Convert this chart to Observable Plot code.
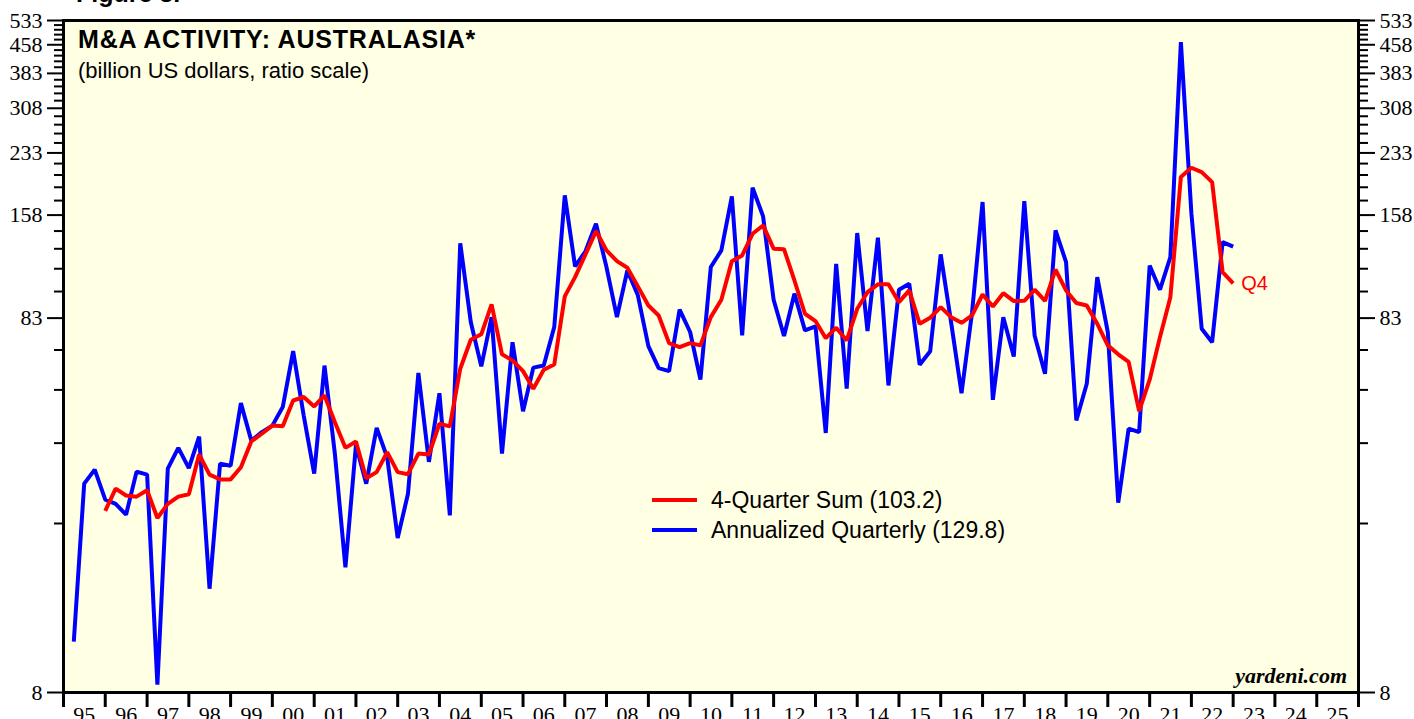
<!DOCTYPE html>
<html>
<head>
<meta charset="utf-8">
<script src="https://cdn.jsdelivr.net/npm/d3@7"></script>
<script src="https://cdn.jsdelivr.net/npm/@observablehq/plot@0.6"></script>
<style>
  body { margin: 0; background: #ffffff; }
  #wrap { position: relative; width: 1414px; height: 719px; overflow: hidden; }
  #wrap > svg { display: block; }
  #overlay { position: absolute; left: 0; top: 0; pointer-events: none; overflow: visible; }
</style>
</head>
<body>
<div id="wrap"></div>
<script>
// ---- Data (billion US dollars), quarterly from 1995 Q1 to 2022 Q4 ----
const firstYear = 1995;
const lastAxisYear = 2025;

const annualized = [
  11.0, 29.5, 32.2, 26.7,   26.0, 24.3, 31.8, 31.2,   8.4, 32.4, 36.9, 32.5,   // 95-97
  39.6, 15.3, 33.4, 33.0,   48.8, 38.6, 40.7, 42.4,   47.6, 67.5, 45.2, 31.4,  // 98-00
  61.7, 35.5, 17.5, 37.5,   29.5, 41.8, 34.8, 21.0,   27.7, 58.9, 33.8, 51.9,  // 01-03
  24.2, 132.5, 81.0, 61.4,  83.5, 35.6, 71.4, 46.4,   60.9, 61.7, 78.5, 178.7, // 04-06
  114.7, 126.0, 149.7, 114.0, 83.5, 111.8, 95.7, 69.7, 60.7, 59.6, 87.5, 76.1, // 07-09
  56.5, 114.2, 126.7, 177.6, 74.5, 187.5, 156.7, 93.1, 74.2, 96.7, 76.9, 78.8, // 10-12
  40.5, 116.5, 53.4, 141.2, 76.6, 137.2, 54.5, 99.1,  102.9, 62.0, 67.5, 123.6, // 13-15
  80.8, 51.9, 86.0, 171.4,  49.8, 83.5, 65.3, 172.5,  74.5, 58.6, 143.6, 117.8, // 16-18
  43.8, 55.1, 107.2, 76.1,  26.2, 41.6, 40.7, 115.3,  99.1, 121.5, 465.9, 159.4, // 19-21
  77.7, 71.4, 133.5, 129.8                                                       // 22
];

const fourQuarterSum = [
  null, null, null, 24.9,   28.6, 27.4, 27.2, 28.3,   23.8, 26.0, 27.2, 27.6,  // 95-97
  35.4, 31.2, 30.3, 30.3,   32.7, 38.4, 40.3, 42.4,   42.2, 49.6, 50.7, 47.8,  // 98-00
  51.2, 43.3, 36.9, 38.4,   30.5, 31.7, 35.9, 31.7,   31.3, 35.6, 35.4, 42.9,  // 01-03
  42.2, 60.5, 72.5, 75.0,   90.4, 66.2, 63.7, 59.6,   53.4, 60.1, 62.1, 95.1,  // 04-06
  107.2, 123.6, 143.0, 126.7, 118.5, 113.7, 101.2, 89.8, 84.4, 71.0, 69.2, 71.0, // 07-09
  70.0, 83.5, 93.1, 118.5,  122.8, 140.6, 148.1, 128.1, 127.7, 105.0, 85.3, 81.5, // 10-12
  73.2, 78.2, 72.2, 88.0,   97.6, 102.5, 102.5, 91.7, 98.7, 80.1, 83.2, 88.9,   // 13-15
  83.5, 80.6, 84.4, 96.2,   89.3, 97.0, 92.3, 92.5,   99.1, 92.5, 112.3, 98.7,  // 16-18
  91.2, 89.8, 80.1, 70.0,   66.2, 63.1, 46.4, 56.5,   73.7, 94.6, 200.4, 212.4, // 19-21
  206.7, 194.2, 110.6, 103.2                                                     // 22
];

const yearLabels = ["95","96","97","98","99","00","01","02","03","04","05","06","07","08","09","10",
                    "11","12","13","14","15","16","17","18","19","20","21","22","23","24","25"];
const yMajorTicks = [8, 83, 158, 233, 308, 383, 458, 533];
const yMinorTicks = [23, 38, 53, 68, 98, 113, 128, 143, 173, 188, 203, 218, 248, 263, 278, 293,
                     323, 338, 353, 368, 398, 413, 428, 443, 473, 488, 503, 518];
const lastLabel = "Q4";

// ---- Build table ----
const quarterEnd = i => new Date(Date.UTC(firstYear, 3 * (i + 1), 1));
const data = annualized.map((v, i) => ({ date: quarterEnd(i), annualized: v, sum: fourQuarterSum[i] }));
const yearStarts = d3.range(firstYear, lastAxisYear + 2).map(y => new Date(Date.UTC(y, 0, 1)));
const yearMids = d3.range(firstYear, lastAxisYear + 1).map(y => new Date(Date.UTC(y, 6, 2)));

const serif = '"Liberation Serif","Times New Roman",Times,serif';
const sans = '"Liberation Sans",Arial,Helvetica,sans-serif';

const chart = Plot.plot({
  width: 1414,
  height: 719,
  marginLeft: 63,
  marginRight: 56,
  marginTop: 20,
  marginBottom: 27,
  style: { fontFamily: serif, fontSize: "22px", background: "transparent", color: "#000", overflow: "hidden" },
  x: { type: "utc", domain: [yearStarts[0], yearStarts[yearStarts.length - 1]] },
  y: { type: "log", domain: [8, 533] },
  marks: [
    Plot.frame({ fill: "#ffffe4", stroke: null }),
    Plot.axisY(yMinorTicks, { anchor: "left", tickSize: 9, strokeWidth: 2, tickFormat: () => "", label: null }),
    Plot.axisY(yMinorTicks, { anchor: "right", tickSize: 9, strokeWidth: 2, tickFormat: () => "", label: null }),
    Plot.axisY(yMajorTicks, { anchor: "left", tickSize: 16, tickPadding: 5, strokeWidth: 2, tickFormat: d => String(d), label: null }),
    Plot.axisY(yMajorTicks, { anchor: "right", tickSize: 16, tickPadding: 5, strokeWidth: 2, tickFormat: d => String(d), label: null }),
    Plot.axisX(yearStarts, { anchor: "bottom", tickSize: 15, strokeWidth: 3, tickFormat: () => "", label: null }),
    Plot.axisX(yearMids, { anchor: "bottom", tickSize: 0, tickPadding: 14, tickFormat: d => yearLabels[d.getUTCFullYear() - firstYear], label: null }),
    Plot.line(data, { x: "date", y: "annualized", stroke: "#0000ff", strokeWidth: 4, strokeLinejoin: "miter", strokeLinecap: "butt" }),
    Plot.line(data, { x: "date", y: "sum", stroke: "#ff0000", strokeWidth: 4, strokeLinejoin: "miter", strokeLinecap: "butt" }),
    Plot.text([data[data.length - 1]], { x: "date", y: "sum", text: () => lastLabel, dx: 8, textAnchor: "start", fill: "#ff0000", fontSize: 20, fontFamily: sans }),
    Plot.frame({ stroke: "#000", strokeWidth: 3 })
  ]
});

const wrap = document.getElementById("wrap");
wrap.appendChild(chart);

// ---- Titles, legend, credit (overlay) ----
const ns = "http://www.w3.org/2000/svg";
const ov = document.createElementNS(ns, "svg");
ov.setAttribute("id", "overlay");
ov.setAttribute("width", 1414);
ov.setAttribute("height", 719);
function addText(str, x, y, opts) {
  const t = document.createElementNS(ns, "text");
  t.setAttribute("x", x); t.setAttribute("y", y);
  for (const [k, v] of Object.entries(opts)) t.setAttribute(k, v);
  t.textContent = str;
  ov.appendChild(t);
}
function addLine(x1, x2, y, color) {
  const l = document.createElementNS(ns, "line");
  l.setAttribute("x1", x1); l.setAttribute("x2", x2);
  l.setAttribute("y1", y); l.setAttribute("y2", y);
  l.setAttribute("stroke", color); l.setAttribute("stroke-width", 4);
  ov.appendChild(l);
}
addText("Figure 3.", 76, 2, { "font-family": sans, "font-size": 25, "font-weight": "bold", fill: "#000" });
addText("M&A ACTIVITY: AUSTRALASIA*", 78, 48, { "font-family": sans, "font-size": 25, "font-weight": "bold", "letter-spacing": "0.8", fill: "#000" });
addText("(billion US dollars, ratio scale)", 78, 78, { "font-family": sans, "font-size": 22, fill: "#000" });
addLine(652, 697, 500, "#ff0000");
addText("4-Quarter Sum (103.2)", 711, 508, { "font-family": sans, "font-size": 23, fill: "#000" });
addLine(652, 697, 530, "#0000ff");
addText("Annualized Quarterly (129.8)", 711, 538, { "font-family": sans, "font-size": 23, fill: "#000" });
addText("yardeni.com", 1347, 683, { "font-family": serif, "font-size": 22, "font-weight": "bold", "font-style": "italic", "text-anchor": "end", fill: "#000" });
wrap.appendChild(ov);
</script>
</body>
</html>
